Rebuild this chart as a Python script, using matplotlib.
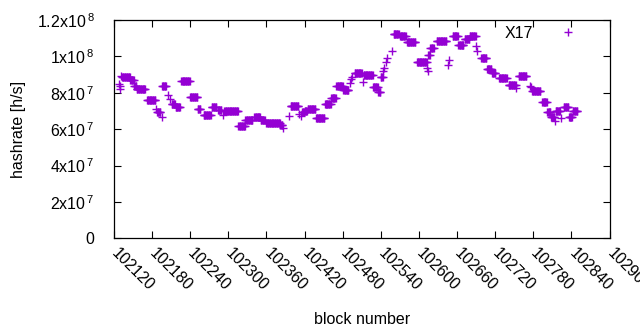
import numpy as np
import matplotlib
matplotlib.use('Agg')
import matplotlib.pyplot as plt

# участки с одинаковым хешрейтом: первый блок, число блоков, значение (x1e7 h/s)
run_start = [102128, 102129, 102130, 102131, 102133, 102146, 102152, 102156, 102172, 102187,
             102188, 102195, 102196, 102205, 102209, 102211, 102217, 102226, 102240, 102252,
             102261, 102274, 102284, 102292, 102294, 102316, 102327, 102332, 102341, 102351,
             102360, 102382, 102386, 102395, 102398, 102412, 102414, 102416, 102420, 102425,
             102438, 102452, 102462, 102470, 102481, 102492, 102493, 102494, 102499, 102512,
             102513, 102528, 102536, 102540, 102544, 102545, 102548, 102549, 102558, 102560,
             102570, 102581, 102597, 102613, 102614, 102615, 102618, 102628, 102646, 102647,
             102653, 102662, 102672, 102680, 102690, 102692, 102698, 102707, 102715, 102726,
             102741, 102753, 102757, 102774, 102776, 102778, 102794, 102802, 102808, 102814,
             102815, 102824, 102828, 102836, 102842]
run_len = [1, 1, 1, 1, 13, 6, 4, 14, 14, 1,
           6, 1, 7, 1, 1, 6, 8, 14, 12, 5,
           12, 8, 6, 1, 22, 11, 5, 7, 10, 7,
           22, 4, 1, 1, 13, 1, 1, 4, 5, 13,
           14, 10, 8, 11, 9, 1, 1, 1, 12, 1,
           15, 8, 4, 4, 1, 1, 1, 1, 1, 9,
           10, 14, 16, 1, 1, 3, 6, 16, 1, 1,
           9, 9, 8, 10, 1, 1, 9, 8, 6, 13,
           12, 1, 13, 1, 1, 14, 8, 6, 6, 1,
           8, 1, 8, 6, 8]
run_value = [8.5, 8.35, 8.2, 8.9, 8.85, 8.7, 8.35, 8.2, 7.6, 7.1,
             6.95, 6.65, 8.35, 7.9, 7.65, 7.4, 7.2, 8.65, 7.75, 7.1,
             6.8, 7.2, 7.05, 6.8, 7.0, 6.2, 6.5, 6.5, 6.65, 6.5,
             6.35, 6.25, 6.05, 6.7, 7.25, 6.85, 6.7, 6.95, 7.0, 7.1,
             6.6, 7.4, 7.7, 8.35, 8.15, 8.55, 8.75, 8.85, 9.1, 8.6,
             9.0, 8.3, 8.05, 8.85, 9.2, 9.35, 9.7, 9.9, 10.3, 11.25,
             11.1, 10.8, 9.7, 9.35, 9.2, 10.1, 10.45, 10.85, 9.55, 9.8,
             11.1, 10.65, 10.95, 11.1, 10.6, 10.3, 9.9, 9.3, 9.1, 8.8,
             8.45, 8.25, 8.9, 8.35, 8.3, 8.1, 7.5, 6.95, 6.65, 6.45,
             7.0, 6.6, 7.2, 6.65, 7.0]

x_ticks = list(range(102120, 102901, 60))
y_ticks = [0, 2e7, 4e7, 6e7, 8e7, 1e8, 1.2e8]
y_labels = ['0', r'$\mathregular{2x10^{\,7}}$', r'$\mathregular{4x10^{\,7}}$',
            r'$\mathregular{6x10^{\,7}}$', r'$\mathregular{8x10^{\,7}}$',
            r'$\mathregular{1x10^{\,8}}$', r'$\mathregular{1.2x10^{\,8}}$']

blocks = np.concatenate([np.arange(s, s + n) for s, n in zip(run_start, run_len)])
hashrate = np.repeat(np.array(run_value) * 1e7, run_len)

plt.rcParams['font.family'] = ['Liberation Sans', 'DejaVu Sans']
plt.rcParams['mathtext.fontset'] = 'custom'
plt.rcParams['mathtext.rm'] = 'Liberation Sans'

fig = plt.figure(figsize=(6.4, 3.3), dpi=100)
ax = fig.add_axes([0.178, 0.278, 0.7745, 0.661])

ax.plot(blocks, hashrate, linestyle='none', marker='+', markersize=5.6,
        markeredgewidth=1.0, color='#9400D3', label='X17')

ax.set_xlim(102120, 102900)
ax.set_ylim(0, 1.2e8)
ax.set_xticks(x_ticks)
ax.set_xticklabels([str(t) for t in x_ticks], rotation=-45, ha='left', va='center',
                   rotation_mode='anchor')
ax.set_yticks(y_ticks)
ax.set_yticklabels(y_labels)
ax.tick_params(direction='in', top=True, right=True, length=5, width=0.8,
               labelsize=11.5, pad=9)
ax.tick_params(axis='y', pad=14)
for s in ax.spines.values():
    s.set_linewidth(0.9)

ax.set_xlabel('block number', fontsize=11.5, labelpad=13)
ax.set_ylabel('hashrate [h/s]', fontsize=11.5, labelpad=8)

ax.legend(loc='center right', bbox_to_anchor=(0.964, 0.94), frameon=False,
          markerfirst=False, handlelength=3, handletextpad=0.67, borderpad=0,
          borderaxespad=0, fontsize=11.5)

fig.savefig('out.png', dpi=100)
